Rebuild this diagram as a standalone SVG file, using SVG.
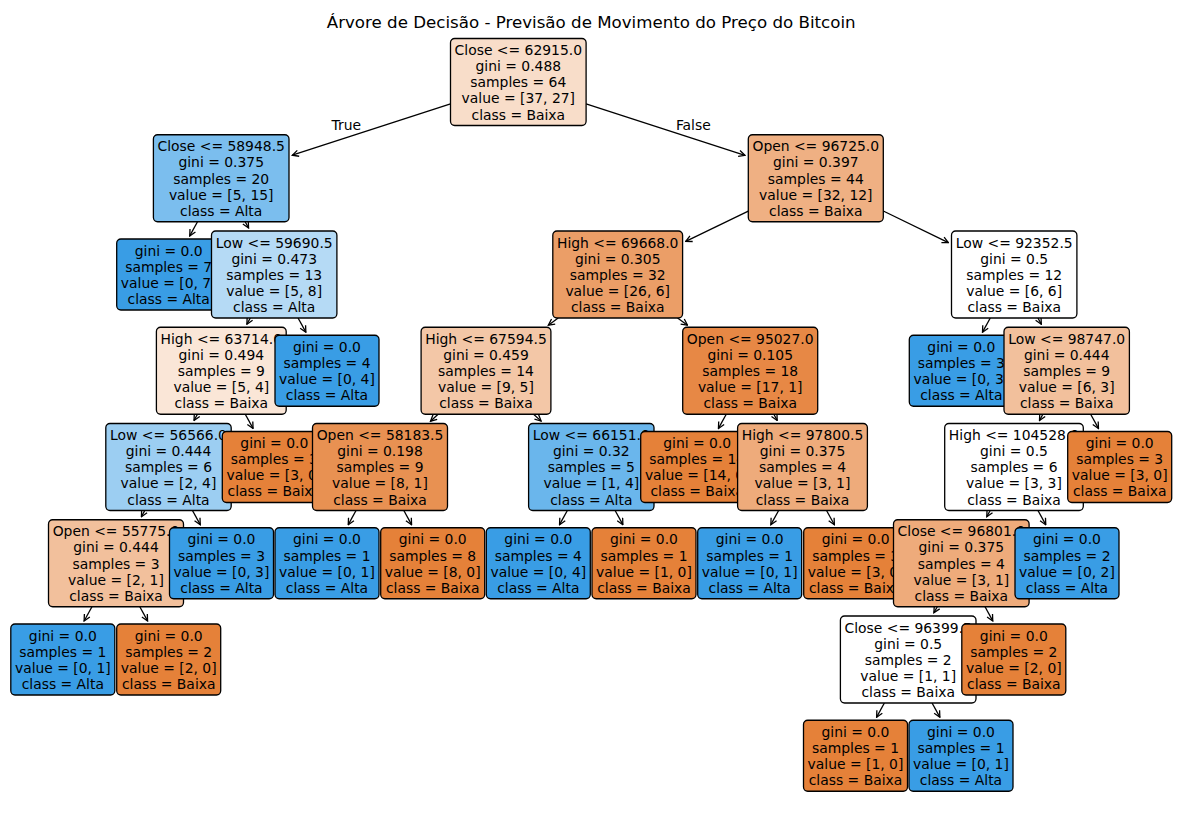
<svg xmlns="http://www.w3.org/2000/svg" width="1182" height="814" viewBox="0 0 1182 814">
<style>
.t{font-family:"DejaVu Sans","Liberation Sans",sans-serif;font-size:13.9px;text-anchor:middle;fill:#000}
.ti{font-family:"DejaVu Sans","Liberation Sans",sans-serif;font-size:16.67px;text-anchor:middle;fill:#000}
.lb{font-family:"DejaVu Sans","Liberation Sans",sans-serif;font-size:13.9px;fill:#000}
.b{stroke:#000;stroke-width:1.3}
.o{fill:#e58139}
.a{fill:#399de5}
#connectors line{stroke:#000;stroke-width:1.3;fill:none;marker-end:url(#ah)}
</style>
<defs>
<marker id="ah" viewBox="-8 -4 9 8" refX="0" refY="0" markerWidth="9" markerHeight="8" markerUnits="userSpaceOnUse" orient="auto">
<path d="M-6.2,-3.1 L0,0 L-6.2,3.1" fill="none" stroke="#000" stroke-width="1.3"/>
</marker>
</defs>
<rect width="1182" height="814" fill="#fff"/>
<text class="ti" x="591.2" y="28">Árvore de Decisão - Previsão de Movimento do Preço do Bitcoin</text>
<g id="connectors">
<line x1="450.5" y1="103.96" x2="292.33" y2="155.21"/>
<line x1="586.1" y1="103.94" x2="744.97" y2="155.33"/>
<line x1="197.5" y1="221.75" x2="189.74" y2="235.93"/>
<line x1="245.15" y1="221.75" x2="248.56" y2="227.93"/>
<line x1="250.29" y1="318" x2="246.9" y2="324.18"/>
<line x1="197.44" y1="414.25" x2="194.04" y2="420.43"/>
<line x1="144.77" y1="510.5" x2="141.41" y2="516.68"/>
<line x1="91.96" y1="606.75" x2="84.11" y2="620.94"/>
<line x1="139.82" y1="606.75" x2="147.58" y2="620.93"/>
<line x1="192.45" y1="510.5" x2="200.26" y2="524.68"/>
<line x1="245.25" y1="414.25" x2="253.06" y2="428.43"/>
<line x1="298.06" y1="318" x2="305.85" y2="332.18"/>
<line x1="748.3" y1="211.05" x2="685.75" y2="241.44"/>
<line x1="558.17" y1="318" x2="548.36" y2="325.18"/>
<line x1="438.09" y1="414.25" x2="430.5" y2="421.15"/>
<line x1="356.05" y1="510.5" x2="348.24" y2="524.68"/>
<line x1="403.82" y1="510.5" x2="411.58" y2="524.68"/>
<line x1="533.59" y1="414.25" x2="541.13" y2="421.14"/>
<line x1="567.35" y1="510.5" x2="559.54" y2="524.68"/>
<line x1="615.12" y1="510.5" x2="622.88" y2="524.68"/>
<line x1="677.59" y1="318" x2="687.48" y2="325.19"/>
<line x1="726.25" y1="414.25" x2="718.44" y2="428.43"/>
<line x1="773.84" y1="414.25" x2="777.19" y2="420.42"/>
<line x1="778.64" y1="510.5" x2="770.85" y2="524.68"/>
<line x1="826.54" y1="510.5" x2="834.39" y2="524.69"/>
<line x1="883.3" y1="211" x2="948.35" y2="242.55"/>
<line x1="990.29" y1="318" x2="982.5" y2="332.18"/>
<line x1="1037.93" y1="318" x2="1041.29" y2="324.18"/>
<line x1="1042.88" y1="414.25" x2="1039.5" y2="420.43"/>
<line x1="990.18" y1="510.5" x2="986.8" y2="516.68"/>
<line x1="937.3" y1="606.75" x2="933.89" y2="612.69"/>
<line x1="884.38" y1="703" x2="876.62" y2="717.18"/>
<line x1="932.06" y1="703" x2="939.85" y2="717.18"/>
<line x1="985.03" y1="606.75" x2="992.76" y2="620.93"/>
<line x1="1037.95" y1="510.5" x2="1045.76" y2="524.68"/>
<line x1="1090.65" y1="414.25" x2="1098.46" y2="428.43"/>
</g>
<text class="lb" x="361" y="130.1" text-anchor="end">True</text>
<text class="lb" x="675.9" y="130.1">False</text>
<g id="nodes">
<!-- depth 7 -->
<g id="n32"><rect class="b o" x="803.5" y="720.25" width="104" height="71" rx="4.2"/><text class="t"><tspan x="855.5" y="736.9">gini = 0.0</tspan><tspan x="855.5" y="753">samples = 1</tspan><tspan x="855.5" y="769.1">value = [1, 0]</tspan><tspan x="855.5" y="785.2">class = Baixa</tspan></text></g>
<g id="n33"><rect class="b a" x="909" y="720.25" width="104" height="71" rx="4.2"/><text class="t"><tspan x="961" y="736.9">gini = 0.0</tspan><tspan x="961" y="753">samples = 1</tspan><tspan x="961" y="769.1">value = [0, 1]</tspan><tspan x="961" y="785.2">class = Alta</tspan></text></g>
<!-- depth 6 -->
<g id="n7"><rect class="b a" x="10.8" y="624" width="104" height="71" rx="4.2"/><text class="t"><tspan x="62.8" y="640.65">gini = 0.0</tspan><tspan x="62.8" y="656.75">samples = 1</tspan><tspan x="62.8" y="672.85">value = [0, 1]</tspan><tspan x="62.8" y="688.95">class = Alta</tspan></text></g>
<g id="n8"><rect class="b o" x="116.7" y="624" width="104" height="71" rx="4.2"/><text class="t"><tspan x="168.7" y="640.65">gini = 0.0</tspan><tspan x="168.7" y="656.75">samples = 2</tspan><tspan x="168.7" y="672.85">value = [2, 0]</tspan><tspan x="168.7" y="688.95">class = Baixa</tspan></text></g>
<g id="n31"><rect class="b" fill="#ffffff" x="840.4" y="616" width="135.6" height="87" rx="4.2"/><text class="t"><tspan x="908.2" y="632.6">Close &lt;= 96399.5</tspan><tspan x="908.2" y="648.7">gini = 0.5</tspan><tspan x="908.2" y="664.8">samples = 2</tspan><tspan x="908.2" y="680.9">value = [1, 1]</tspan><tspan x="908.2" y="697">class = Baixa</tspan></text></g>
<g id="n34"><rect class="b o" x="961.8" y="624" width="104" height="71" rx="4.2"/><text class="t"><tspan x="1013.8" y="640.65">gini = 0.0</tspan><tspan x="1013.8" y="656.75">samples = 2</tspan><tspan x="1013.8" y="672.85">value = [2, 0]</tspan><tspan x="1013.8" y="688.95">class = Baixa</tspan></text></g>
<!-- depth 5 -->
<g id="n6"><rect class="b" fill="#f2c09c" x="48.5" y="519.75" width="135" height="87" rx="4.2"/><text class="t"><tspan x="116" y="536.35">Open &lt;= 55775.0</tspan><tspan x="116" y="552.45">gini = 0.444</tspan><tspan x="116" y="568.55">samples = 3</tspan><tspan x="116" y="584.65">value = [2, 1]</tspan><tspan x="116" y="600.75">class = Baixa</tspan></text></g>
<g id="n9"><rect class="b a" x="169.5" y="527.75" width="104" height="71" rx="4.2"/><text class="t"><tspan x="221.5" y="544.4">gini = 0.0</tspan><tspan x="221.5" y="560.5">samples = 3</tspan><tspan x="221.5" y="576.6">value = [0, 3]</tspan><tspan x="221.5" y="592.7">class = Alta</tspan></text></g>
<g id="n16"><rect class="b a" x="275" y="527.75" width="104" height="71" rx="4.2"/><text class="t"><tspan x="327" y="544.4">gini = 0.0</tspan><tspan x="327" y="560.5">samples = 1</tspan><tspan x="327" y="576.6">value = [0, 1]</tspan><tspan x="327" y="592.7">class = Alta</tspan></text></g>
<g id="n17"><rect class="b o" x="380.7" y="527.75" width="104" height="71" rx="4.2"/><text class="t"><tspan x="432.7" y="544.4">gini = 0.0</tspan><tspan x="432.7" y="560.5">samples = 8</tspan><tspan x="432.7" y="576.6">value = [8, 0]</tspan><tspan x="432.7" y="592.7">class = Baixa</tspan></text></g>
<g id="n19"><rect class="b a" x="486.3" y="527.75" width="104" height="71" rx="4.2"/><text class="t"><tspan x="538.3" y="544.4">gini = 0.0</tspan><tspan x="538.3" y="560.5">samples = 4</tspan><tspan x="538.3" y="576.6">value = [0, 4]</tspan><tspan x="538.3" y="592.7">class = Alta</tspan></text></g>
<g id="n20"><rect class="b o" x="592" y="527.75" width="104" height="71" rx="4.2"/><text class="t"><tspan x="644" y="544.4">gini = 0.0</tspan><tspan x="644" y="560.5">samples = 1</tspan><tspan x="644" y="576.6">value = [1, 0]</tspan><tspan x="644" y="592.7">class = Baixa</tspan></text></g>
<g id="n24"><rect class="b a" x="697.7" y="527.75" width="104" height="71" rx="4.2"/><text class="t"><tspan x="749.7" y="544.4">gini = 0.0</tspan><tspan x="749.7" y="560.5">samples = 1</tspan><tspan x="749.7" y="576.6">value = [0, 1]</tspan><tspan x="749.7" y="592.7">class = Alta</tspan></text></g>
<g id="n25"><rect class="b o" x="803.7" y="527.75" width="104" height="71" rx="4.2"/><text class="t"><tspan x="855.7" y="544.4">gini = 0.0</tspan><tspan x="855.7" y="560.5">samples = 3</tspan><tspan x="855.7" y="576.6">value = [3, 0]</tspan><tspan x="855.7" y="592.7">class = Baixa</tspan></text></g>
<g id="n30"><rect class="b" fill="#eeab7b" x="893.5" y="519.75" width="135.6" height="87" rx="4.2"/><text class="t"><tspan x="961.3" y="536.35">Close &lt;= 96801.0</tspan><tspan x="961.3" y="552.45">gini = 0.375</tspan><tspan x="961.3" y="568.55">samples = 4</tspan><tspan x="961.3" y="584.65">value = [3, 1]</tspan><tspan x="961.3" y="600.75">class = Baixa</tspan></text></g>
<g id="n35"><rect class="b a" x="1015" y="527.75" width="104" height="71" rx="4.2"/><text class="t"><tspan x="1067" y="544.4">gini = 0.0</tspan><tspan x="1067" y="560.5">samples = 2</tspan><tspan x="1067" y="576.6">value = [0, 2]</tspan><tspan x="1067" y="592.7">class = Alta</tspan></text></g>
<!-- depth 4 -->
<g id="n5"><rect class="b" fill="#9ccef2" x="105.8" y="423.5" width="125.4" height="87" rx="4.2"/><text class="t"><tspan x="168.5" y="440.1">Low &lt;= 56566.0</tspan><tspan x="168.5" y="456.2">gini = 0.444</tspan><tspan x="168.5" y="472.3">samples = 6</tspan><tspan x="168.5" y="488.4">value = [2, 4]</tspan><tspan x="168.5" y="504.5">class = Alta</tspan></text></g>
<g id="n10"><rect class="b o" x="222.3" y="431.5" width="104" height="71" rx="4.2"/><text class="t"><tspan x="274.3" y="448.15">gini = 0.0</tspan><tspan x="274.3" y="464.25">samples = 3</tspan><tspan x="274.3" y="480.35">value = [3, 0]</tspan><tspan x="274.3" y="496.45">class = Baixa</tspan></text></g>
<g id="n15"><rect class="b" fill="#e89152" x="312.5" y="423.5" width="135" height="87" rx="4.2"/><text class="t"><tspan x="380" y="440.1">Open &lt;= 58183.5</tspan><tspan x="380" y="456.2">gini = 0.198</tspan><tspan x="380" y="472.3">samples = 9</tspan><tspan x="380" y="488.4">value = [8, 1]</tspan><tspan x="380" y="504.5">class = Baixa</tspan></text></g>
<g id="n18"><rect class="b" fill="#6ab6ec" x="528.6" y="423.5" width="125.4" height="87" rx="4.2"/><text class="t"><tspan x="591.3" y="440.1">Low &lt;= 66151.0</tspan><tspan x="591.3" y="456.2">gini = 0.32</tspan><tspan x="591.3" y="472.3">samples = 5</tspan><tspan x="591.3" y="488.4">value = [1, 4]</tspan><tspan x="591.3" y="504.5">class = Alta</tspan></text></g>
<g id="n22"><rect class="b o" x="640.7" y="431.5" width="113" height="71" rx="4.2"/><text class="t"><tspan x="697.2" y="448.15">gini = 0.0</tspan><tspan x="697.2" y="464.25">samples = 14</tspan><tspan x="697.2" y="480.35">value = [14, 0]</tspan><tspan x="697.2" y="496.45">class = Baixa</tspan></text></g>
<g id="n23"><rect class="b" fill="#eeab7b" x="737.6" y="423.5" width="129.8" height="87" rx="4.2"/><text class="t"><tspan x="802.5" y="440.1">High &lt;= 97800.5</tspan><tspan x="802.5" y="456.2">gini = 0.375</tspan><tspan x="802.5" y="472.3">samples = 4</tspan><tspan x="802.5" y="488.4">value = [3, 1]</tspan><tspan x="802.5" y="504.5">class = Baixa</tspan></text></g>
<g id="n29"><rect class="b" fill="#ffffff" x="944.7" y="423.5" width="138.6" height="87" rx="4.2"/><text class="t"><tspan x="1014" y="440.1">High &lt;= 104528.0</tspan><tspan x="1014" y="456.2">gini = 0.5</tspan><tspan x="1014" y="472.3">samples = 6</tspan><tspan x="1014" y="488.4">value = [3, 3]</tspan><tspan x="1014" y="504.5">class = Baixa</tspan></text></g>
<g id="n36"><rect class="b o" x="1067.7" y="431.5" width="104" height="71" rx="4.2"/><text class="t"><tspan x="1119.7" y="448.15">gini = 0.0</tspan><tspan x="1119.7" y="464.25">samples = 3</tspan><tspan x="1119.7" y="480.35">value = [3, 0]</tspan><tspan x="1119.7" y="496.45">class = Baixa</tspan></text></g>
<!-- depth 3 -->
<g id="n4"><rect class="b" fill="#fae6d7" x="156.4" y="327.25" width="129.8" height="87" rx="4.2"/><text class="t"><tspan x="221.3" y="343.85">High &lt;= 63714.0</tspan><tspan x="221.3" y="359.95">gini = 0.494</tspan><tspan x="221.3" y="376.05">samples = 9</tspan><tspan x="221.3" y="392.15">value = [5, 4]</tspan><tspan x="221.3" y="408.25">class = Baixa</tspan></text></g>
<g id="n11"><rect class="b a" x="275" y="335.25" width="104" height="71" rx="4.2"/><text class="t"><tspan x="327" y="351.9">gini = 0.0</tspan><tspan x="327" y="368">samples = 4</tspan><tspan x="327" y="384.1">value = [0, 4]</tspan><tspan x="327" y="400.2">class = Alta</tspan></text></g>
<g id="n14"><rect class="b" fill="#f3c7a7" x="421.1" y="327.25" width="129.8" height="87" rx="4.2"/><text class="t"><tspan x="486" y="343.85">High &lt;= 67594.5</tspan><tspan x="486" y="359.95">gini = 0.459</tspan><tspan x="486" y="376.05">samples = 14</tspan><tspan x="486" y="392.15">value = [9, 5]</tspan><tspan x="486" y="408.25">class = Baixa</tspan></text></g>
<g id="n21"><rect class="b" fill="#e78845" x="682.7" y="327.25" width="135" height="87" rx="4.2"/><text class="t"><tspan x="750.2" y="343.85">Open &lt;= 95027.0</tspan><tspan x="750.2" y="359.95">gini = 0.105</tspan><tspan x="750.2" y="376.05">samples = 18</tspan><tspan x="750.2" y="392.15">value = [17, 1]</tspan><tspan x="750.2" y="408.25">class = Baixa</tspan></text></g>
<g id="n27"><rect class="b a" x="909.3" y="335.25" width="104" height="71" rx="4.2"/><text class="t"><tspan x="961.3" y="351.9">gini = 0.0</tspan><tspan x="961.3" y="368">samples = 3</tspan><tspan x="961.3" y="384.1">value = [0, 3]</tspan><tspan x="961.3" y="400.2">class = Alta</tspan></text></g>
<g id="n28"><rect class="b" fill="#f2c09c" x="1004" y="327.25" width="125.4" height="87" rx="4.2"/><text class="t"><tspan x="1066.7" y="343.85">Low &lt;= 98747.0</tspan><tspan x="1066.7" y="359.95">gini = 0.444</tspan><tspan x="1066.7" y="376.05">samples = 9</tspan><tspan x="1066.7" y="392.15">value = [6, 3]</tspan><tspan x="1066.7" y="408.25">class = Baixa</tspan></text></g>
<!-- depth 2 -->
<g id="n2"><rect class="b a" x="116.7" y="239" width="104" height="71" rx="4.2"/><text class="t"><tspan x="168.7" y="255.65">gini = 0.0</tspan><tspan x="168.7" y="271.75">samples = 7</tspan><tspan x="168.7" y="287.85">value = [0, 7]</tspan><tspan x="168.7" y="303.95">class = Alta</tspan></text></g>
<g id="n3"><rect class="b" fill="#b5daf5" x="211.5" y="231" width="125.4" height="87" rx="4.2"/><text class="t"><tspan x="274.2" y="247.6">Low &lt;= 59690.5</tspan><tspan x="274.2" y="263.7">gini = 0.473</tspan><tspan x="274.2" y="279.8">samples = 13</tspan><tspan x="274.2" y="295.9">value = [5, 8]</tspan><tspan x="274.2" y="312">class = Alta</tspan></text></g>
<g id="n13"><rect class="b" fill="#eb9e67" x="552.8" y="231" width="129.8" height="87" rx="4.2"/><text class="t"><tspan x="617.7" y="247.6">High &lt;= 69668.0</tspan><tspan x="617.7" y="263.7">gini = 0.305</tspan><tspan x="617.7" y="279.8">samples = 32</tspan><tspan x="617.7" y="295.9">value = [26, 6]</tspan><tspan x="617.7" y="312">class = Baixa</tspan></text></g>
<g id="n26"><rect class="b" fill="#ffffff" x="951.5" y="231" width="125.4" height="87" rx="4.2"/><text class="t"><tspan x="1014.2" y="247.6">Low &lt;= 92352.5</tspan><tspan x="1014.2" y="263.7">gini = 0.5</tspan><tspan x="1014.2" y="279.8">samples = 12</tspan><tspan x="1014.2" y="295.9">value = [6, 6]</tspan><tspan x="1014.2" y="312">class = Baixa</tspan></text></g>
<!-- depth 1 -->
<g id="n1"><rect class="b" fill="#7bbeee" x="153.4" y="134.75" width="135.6" height="87" rx="4.2"/><text class="t"><tspan x="221.2" y="151.35">Close &lt;= 58948.5</tspan><tspan x="221.2" y="167.45">gini = 0.375</tspan><tspan x="221.2" y="183.55">samples = 20</tspan><tspan x="221.2" y="199.65">value = [5, 15]</tspan><tspan x="221.2" y="215.75">class = Alta</tspan></text></g>
<g id="n12"><rect class="b" fill="#efb083" x="748.3" y="134.75" width="135" height="87" rx="4.2"/><text class="t"><tspan x="815.8" y="151.35">Open &lt;= 96725.0</tspan><tspan x="815.8" y="167.45">gini = 0.397</tspan><tspan x="815.8" y="183.55">samples = 44</tspan><tspan x="815.8" y="199.65">value = [32, 12]</tspan><tspan x="815.8" y="215.75">class = Baixa</tspan></text></g>
<!-- depth 0 -->
<g id="n0"><rect class="b" fill="#f8ddc9" x="450.5" y="38.5" width="135.6" height="87" rx="4.2"/><text class="t"><tspan x="518.3" y="55.1">Close &lt;= 62915.0</tspan><tspan x="518.3" y="71.2">gini = 0.488</tspan><tspan x="518.3" y="87.3">samples = 64</tspan><tspan x="518.3" y="103.4">value = [37, 27]</tspan><tspan x="518.3" y="119.5">class = Baixa</tspan></text></g>
</g>
</svg>
